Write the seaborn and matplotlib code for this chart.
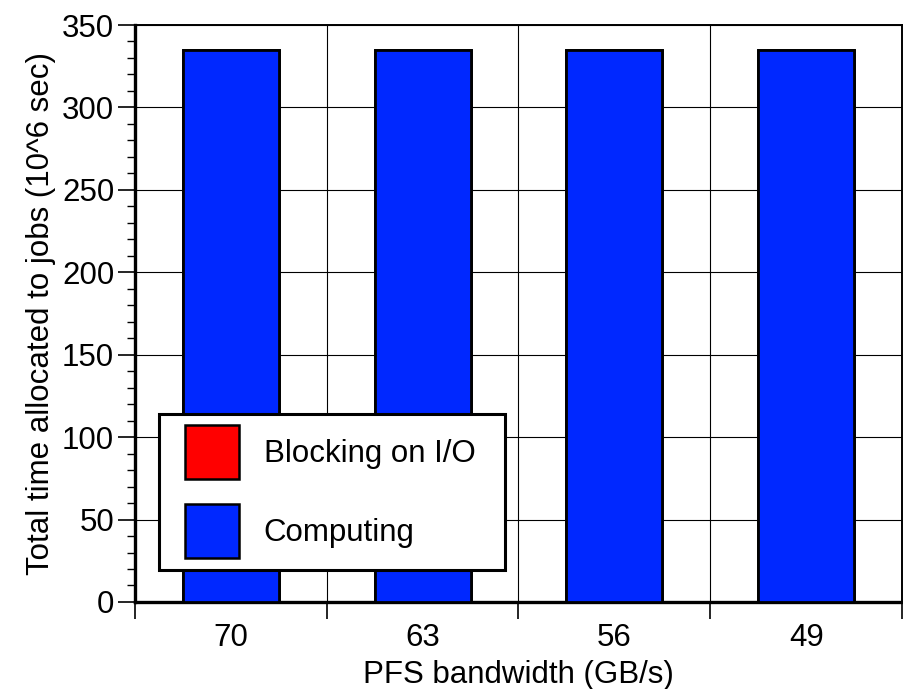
import matplotlib
matplotlib.use("Agg")
import matplotlib.pyplot as plt
import seaborn as sns
import pandas as pd
import numpy as np
from matplotlib.patches import Patch, Rectangle
from matplotlib.legend_handler import HandlerPatch
from matplotlib.ticker import MultipleLocator, FixedLocator

bandwidth = ["70", "63", "56", "49"]
computing = [335, 335, 335, 335]
blocking = [0, 0, 0, 0]

sns.set_theme(style="white")
plt.rcParams['font.family'] = ['Liberation Sans', 'DejaVu Sans']

df = pd.DataFrame({"bw": bandwidth, "comp": computing, "block": blocking})
df["total"] = df["comp"] + df["block"]

fig = plt.figure(figsize=(9.04, 6.89), dpi=100)
ax = fig.add_axes([0.1493, 0.1263, 0.8485, 0.8374])

red = "#ff0000"
blue = "#0028ff"
FS = 22.5

sns.barplot(data=df, x="bw", y="total", color=red, saturation=1, width=0.5,
            edgecolor="black", linewidth=2.0, ax=ax, zorder=2)
sns.barplot(data=df, x="bw", y="comp", color=blue, saturation=1, width=0.5,
            edgecolor="black", linewidth=2.0, ax=ax, zorder=3)

ax.set_xlim(-0.5, 3.5)
ax.set_ylim(0, 350)
ax.yaxis.set_major_locator(MultipleLocator(50))
ax.yaxis.set_minor_locator(MultipleLocator(10))
ax.xaxis.set_minor_locator(FixedLocator([-0.5, 0.5, 1.5, 2.5, 3.5]))

ax.grid(True, which="major", axis="y", color="black", linewidth=0.8)
ax.grid(True, which="minor", axis="x", color="black", linewidth=0.8)
ax.grid(False, which="major", axis="x")
ax.set_axisbelow(True)

ax.tick_params(axis="y", which="major", direction="out", length=12, width=1.2,
               labelsize=FS, pad=3, left=True, color="black", labelcolor="black")
ax.tick_params(axis="y", which="minor", direction="out", length=6, width=1.0,
               left=True, color="black")
ax.tick_params(axis="x", which="major", length=0, labelsize=FS, pad=15, labelcolor="black")
ax.tick_params(axis="x", which="minor", direction="out", length=12, width=1.2,
               bottom=True, color="black")

for side in ["left", "bottom"]:
    ax.spines[side].set_linewidth(2.4)
    ax.spines[side].set_color("black")
for side in ["top", "right"]:
    ax.spines[side].set_linewidth(1.4)
    ax.spines[side].set_color("black")

ax.set_xlabel("PFS bandwidth (GB/s)", fontsize=FS, labelpad=5, color="black")
ax.set_ylabel("Total time allocated to jobs (10^6 sec)", fontsize=FS, labelpad=4, color="black")


class OffsetPatchHandler(HandlerPatch):
    def __init__(self, offset, **kw):
        super().__init__(**kw)
        self.offset = offset

    def create_artists(self, legend, orig_handle, xdescent, ydescent,
                       width, height, fontsize, trans):
        p = Rectangle((-xdescent + self.offset, -ydescent),
                      width - self.offset, height)
        self.update_prop(p, orig_handle, legend)
        p.set_transform(trans)
        return [p]


handles = [Patch(facecolor=red, edgecolor="black", linewidth=1.8, label="Blocking on I/O  "),
           Patch(facecolor=blue, edgecolor="black", linewidth=1.8, label="Computing")]
hmap = {h: OffsetPatchHandler(10.0) for h in handles}
leg = ax.legend(handles=handles, handler_map=hmap, loc="lower left",
                bbox_to_anchor=(0.031, 0.055),
                fontsize=FS, handlelength=2.18, handleheight=2.28, handletextpad=0.8,
                labelspacing=0.8, borderpad=0.38, fancybox=False, framealpha=1,
                edgecolor="black", borderaxespad=0)
leg.get_frame().set_linewidth(2.2)
for t in leg.get_texts():
    t.set_color("black")
leg.set_zorder(5)

fig.savefig("out.png", dpi=100)
